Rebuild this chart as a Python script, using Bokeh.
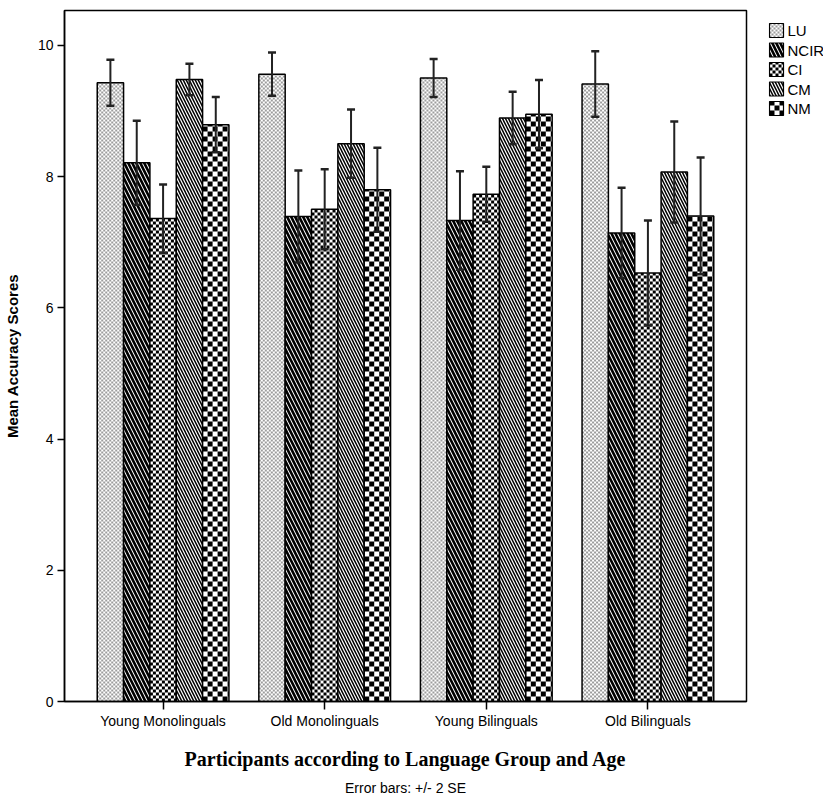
from bokeh.plotting import figure
from bokeh.layouts import row
from bokeh.models import (ColumnDataSource, FactorRange, Range1d, Whisker, TeeHead,
                          Title, FixedTicker)
from bokeh.core.properties import value
from bokeh.transform import dodge
from bokeh.embed import file_html
from bokeh.resources import INLINE

groups = ["Young Monolinguals", "Old Monolinguals", "Young Bilinguals", "Old Bilinguals"]
series = ["LU", "NCIR", "CI", "CM", "NM"]
LU = [9.43, 9.56, 9.50, 9.41]
NCIR = [8.21, 7.39, 7.33, 7.14]
CI = [7.36, 7.50, 7.73, 6.53]
CM = [9.48, 8.50, 8.89, 8.07]
NM = [8.79, 7.80, 8.95, 7.40]
LU_err = [0.35, 0.33, 0.29, 0.50]
NCIR_err = [0.64, 0.70, 0.75, 0.69]
CI_err = [0.52, 0.61, 0.42, 0.80]
CM_err = [0.24, 0.52, 0.40, 0.77]
NM_err = [0.42, 0.64, 0.52, 0.89]
y_ticks = [0, 2, 4, 6, 8, 10]

values = {"LU": LU, "NCIR": NCIR, "CI": CI, "CM": CM, "NM": NM}
errors = {"LU": LU_err, "NCIR": NCIR_err, "CI": CI_err, "CM": CM_err, "NM": NM_err}

data = {"group": groups}
for s in series:
    data[s] = values[s]
    data[s + "_up"] = [v + e for v, e in zip(values[s], errors[s])]
    data[s + "_lo"] = [v - e for v, e in zip(values[s], errors[s])]
src = ColumnDataSource(data)

# ---- layout constants (pixels) ----
FW, FH = 682, 691
PAD = 0.055
Y_MAX = 10.53
px_x = FW / (len(groups) * (1 + PAD))   # px per synthetic x unit
px_y = FH / Y_MAX                        # px per y unit

bw = 0.163
offsets = [-2 * bw, -bw, 0, bw, 2 * bw]

# pattern style per series: ("checker", cell_px, colour) or ("hatch", scale, weight)
pattern = {
    "LU":   ("checker", 2, "#9c9c9c"),
    "NCIR": ("hatch", 8, 2.6),
    "CI":   ("checker", 3, "#000000"),
    "CM":   ("hatch", 6, 1.5),
    "NM":   ("checker", 5, "#000000"),
}


def checker_cells(x0, x1, y0, y1, cw, ch):
    L, R, B, T = [], [], [], []
    j = 0
    y = y0
    while y < y1 - 1e-9:
        i = 0
        x = x0
        while x < x1 - 1e-9:
            if (i + j) % 2 == 0:
                L.append(x)
                R.append(min(x + cw, x1))
                B.append(y)
                T.append(min(y + ch, y1))
            x += cw
            i += 1
        y += ch
        j += 1
    return L, R, B, T


p = figure(x_range=FactorRange(*groups, range_padding=PAD),
           y_range=Range1d(0, Y_MAX),
           frame_width=FW, frame_height=FH, output_backend="svg", toolbar_location=None,
           min_border_left=56, min_border_top=10, min_border_right=22, min_border_bottom=94)
p.xgrid.visible = False
p.ygrid.visible = False
p.outline_line_color = "black"
p.outline_line_width = 1.5
p.background_fill_color = "white"

for s, off in zip(series, offsets):
    kind = pattern[s]
    if kind[0] == "hatch":
        p.vbar(x=dodge("group", off, range=p.x_range), top=s, width=bw, source=src,
               fill_color="white", line_color=None,
               hatch_pattern="\\", hatch_color="black", hatch_scale=kind[1], hatch_weight=kind[2])
    else:
        p.vbar(x=dodge("group", off, range=p.x_range), top=s, width=bw, source=src,
               fill_color="white", line_color=None)
        L, R, B, T = [], [], [], []
        for gi, v in enumerate(values[s]):
            xc = gi + 0.5 + off
            l, r, b, t = checker_cells(xc - bw / 2, xc + bw / 2, 0, v,
                                       kind[1] / px_x, kind[1] / px_y)
            L += l; R += r; B += b; T += t
        p.quad(left=L, right=R, bottom=B, top=T, fill_color=kind[2], line_color=None)
    p.vbar(x=dodge("group", off, range=p.x_range), top=s, width=bw, source=src,
           fill_color=None, line_color="black", line_width=1.5)

for s, off in zip(series, offsets):
    w = Whisker(source=src, base=dodge("group", off, range=p.x_range),
                upper=s + "_up", lower=s + "_lo",
                line_color="#222222", line_width=2, level="annotation",
                upper_head=TeeHead(size=8, line_width=2.5, line_color="#222222"),
                lower_head=TeeHead(size=8, line_width=2.5, line_color="#222222"))
    p.add_layout(w)

p.yaxis.ticker = FixedTicker(ticks=y_ticks)
p.yaxis.minor_tick_line_color = None
p.yaxis.major_tick_out = 7
p.yaxis.major_tick_in = 0
p.yaxis.major_tick_line_width = 1.5
p.yaxis.axis_line_width = 1.5
p.yaxis.major_label_text_font = "Liberation Sans"
p.yaxis.major_label_text_font_size = "14px"
p.yaxis.major_label_text_color = "black"
p.yaxis.major_label_standoff = 4
p.yaxis.axis_label = "Mean Accuracy Scores"
p.yaxis.axis_label_text_font = "Liberation Sans"
p.yaxis.axis_label_text_font_style = "bold"
p.yaxis.axis_label_text_font_size = "15px"
p.yaxis.axis_label_text_color = "black"
p.yaxis.axis_label_standoff = 14

p.xaxis.major_tick_out = 8
p.xaxis.major_tick_in = 0
p.xaxis.major_tick_line_width = 1.5
p.xaxis.axis_line_width = 1.5
p.xaxis.major_label_text_font = "Liberation Sans"
p.xaxis.major_label_text_font_size = "14px"
p.xaxis.major_label_text_color = "black"
p.xaxis.major_label_standoff = 3
p.xaxis.axis_label = "Participants according to Language Group and Age"
p.xaxis.axis_label_text_font = "Liberation Serif"
p.xaxis.axis_label_text_font_style = "bold"
p.xaxis.axis_label_text_font_size = "20px"
p.xaxis.axis_label_text_color = "black"
p.xaxis.axis_label_standoff = 16

cap = Title(text="Error bars: +/- 2 SE", align="center", text_font="Liberation Sans",
            text_font_size="14px", text_font_style="normal", text_color="black", standoff=10)
p.add_layout(cap, "below")

# ---- legend drawn as a small side figure (y measured downward from its top) ----
LW, LH = 55, 120
leg = figure(frame_width=LW, frame_height=LH, x_range=Range1d(0, LW), y_range=Range1d(0, LH),
             output_backend="svg", toolbar_location=None,
             min_border_left=0, min_border_right=0, min_border_top=0, min_border_bottom=0,
             x_axis_location=None, y_axis_location=None)
leg.xgrid.visible = False
leg.ygrid.visible = False
leg.outline_line_color = None
leg.align = "start"

box = 14
box_left = 1
tops = [13 + 19.5 * i for i in range(len(series))]
for s, t0 in zip(series, tops):
    kind = pattern[s]
    y_top = LH - t0
    y_bot = LH - t0 - box
    if kind[0] == "hatch":
        leg.quad(left=[box_left], right=[box_left + box], top=[y_top], bottom=[y_bot],
                 fill_color="white", line_color=None,
                 hatch_pattern="\\", hatch_color="black", hatch_scale=kind[1], hatch_weight=kind[2])
    else:
        l, r, b, t = checker_cells(box_left, box_left + box, y_bot, y_top, kind[1], kind[1])
        leg.quad(left=l, right=r, bottom=b, top=t, fill_color=kind[2], line_color=None)
    leg.quad(left=[box_left], right=[box_left + box], top=[y_top], bottom=[y_bot],
             fill_color=None, line_color="black", line_width=1.2)
leg.text(x=[box_left + box + 4] * len(series), y=[LH - t0 - box / 2 for t0 in tops], text=series,
         text_baseline="middle", text_align="left", text_color="black",
         text_font=value("Liberation Sans"), text_font_size="15px")

layout = row(p, leg)
open("out.html", "w").write(file_html(layout, INLINE))
